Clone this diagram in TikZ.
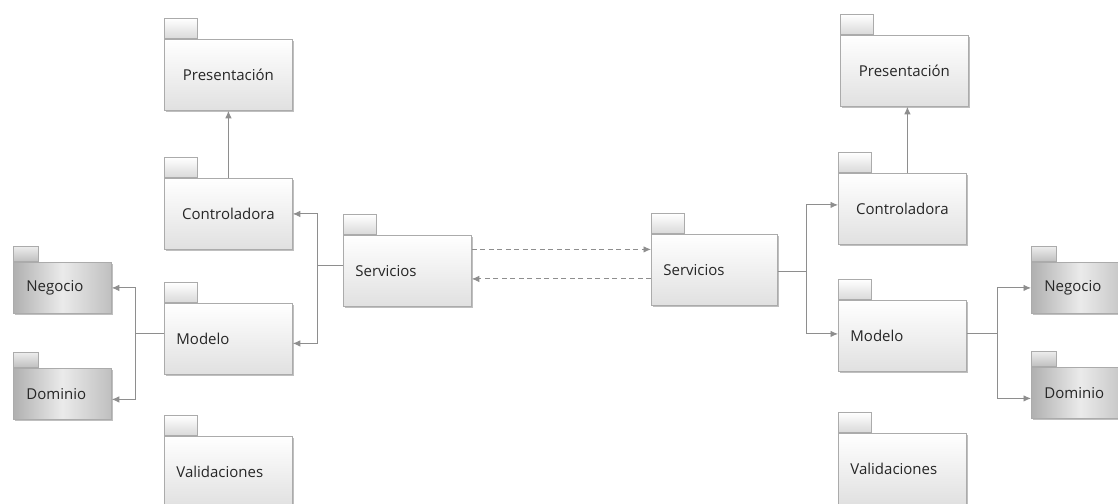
\documentclass[tikz,border=0pt]{standalone}
\usepackage{fontspec}
\setmainfont{Open Sans}
\usetikzlibrary{arrows.meta,shadows}
\definecolor{edge}{HTML}{ABABAB}
\definecolor{wire}{HTML}{8E8E8E}
\definecolor{ink}{HTML}{262626}

\begin{document}
\begin{tikzpicture}[x=1pt,y=-1pt,
  font=\fontsize{15}{17}\selectfont, text=ink,
  % light package body
  pkg/.style={draw=edge, line width=0.8pt, top color=white, bottom color=gray!24,
    minimum width=128pt, minimum height=71pt, anchor=north west,
    text width=104pt, inner xsep=12pt, inner ysep=0pt, align=left,
    drop shadow={shadow xshift=1.5pt, shadow yshift=-2pt, fill=black!50, opacity=0.5}},
  mid/.style={align=center},
  % darker package body (middle colour last, the outer ones reset it)
  dpkg/.style={pkg, left color=gray!62, right color=gray!50, middle color=gray!16,
    minimum width=98pt, minimum height=51pt, text width=72pt, inner xsep=13pt},
  % package tabs
  tab/.style={draw=edge, line width=0.8pt, top color=white, bottom color=gray!30,
    minimum width=33pt, minimum height=20pt, anchor=south west, inner sep=0pt},
  dtab/.style={tab, top color=gray!15, bottom color=gray!50,
    minimum width=25pt, minimum height=15pt},
  wire/.style={draw=wire, line width=0.9pt},
  conn/.style={wire, -{Latex[length=7.5pt,width=6.5pt]}},
  dconn/.style={conn, dash pattern=on 5pt off 3.5pt},
]
\useasboundingbox (0,0) rectangle (1118,503);

% ---- left group ----
\node[pkg,mid] (lpres) at (164,39)  {Presentación};
\node[pkg,mid] (lctrl) at (164,178) {Controladora};
\node[pkg]     (lmod)  at (164,303) {Modelo};
\node[pkg]     (lval)  at (164,436) {Validaciones};
\node[pkg]     (lserv) at (343,235) {Servicios};
\node[dpkg]    (lneg)  at (13,262)  {Negocio};
\node[dpkg]    (ldom)  at (13,368)  {Dominio};

% ---- right group ----
\node[pkg,mid] (rpres) at (840,35)  {Presentación};
\node[pkg,mid] (rctrl) at (838,173) {Controladora};
\node[pkg]     (rmod)  at (838,300) {Modelo};
\node[pkg]     (rval)  at (838,433) {Validaciones};
\node[pkg,minimum width=126pt,text width=102pt] (rserv) at (651,234) {Servicios};
\node[dpkg]    (rneg)  at (1031,262) {Negocio};
\node[dpkg]    (rdom)  at (1031,367) {Dominio};

% ---- tabs ----
\foreach \p in {lpres,lctrl,lmod,lval,lserv,rpres,rctrl,rmod,rval,rserv}
  \node[tab] (\p-tab) at (\p.north west) {};
\foreach \p in {lneg,ldom,rneg,rdom}
  \node[dtab] (\p-tab) at (\p.north west) {};

% ---- left connectors ----
\draw[conn] (lctrl.north) -- (lpres.south);
\coordinate (lj1) at ([xshift=-26pt,yshift=5pt]lserv.west);
\draw[wire] ([yshift=5pt]lserv.west) -- (lj1);
\draw[conn] (lj1) |- (lctrl.east);
\draw[conn] (lj1) |- ([yshift=-4.5pt]lmod.east);
\coordinate (lj2) at ([xshift=-29pt,yshift=5.5pt]lmod.west);
\draw[wire] ([yshift=5.5pt]lmod.west) -- (lj2);
\draw[conn] (lj2) |- (lneg.east);
\draw[conn] (lj2) |- ([yshift=-5.5pt]ldom.east);

% ---- exchange between the two service packages ----
\draw[dconn] ([yshift=21.5pt]lserv.east) -- ([yshift=21.5pt]lserv.east -| rserv.west);
\draw[dconn] ([yshift=-9pt]rserv.west) -- ([yshift=-9pt]rserv.west -| lserv.east);

% ---- right connectors ----
\draw[conn] ([xshift=5pt]rctrl.north) -- ([xshift=5pt]rctrl.north |- rpres.south);
\coordinate (rj1) at ([xshift=29pt,yshift=-2pt]rserv.east);
\draw[wire] ([yshift=-2pt]rserv.east) -- (rj1);
\draw[conn] (rj1) |- ([yshift=4pt]rctrl.west);
\draw[conn] (rj1) |- ([yshift=2pt]rmod.west);
\coordinate (rj2) at ([xshift=31pt,yshift=2pt]rmod.east);
\draw[wire] ([yshift=2pt]rmod.east) -- (rj2);
\draw[conn] (rj2) |- (rneg.west);
\draw[conn] (rj2) |- ([yshift=-5.5pt]rdom.west);
\end{tikzpicture}
\end{document}
